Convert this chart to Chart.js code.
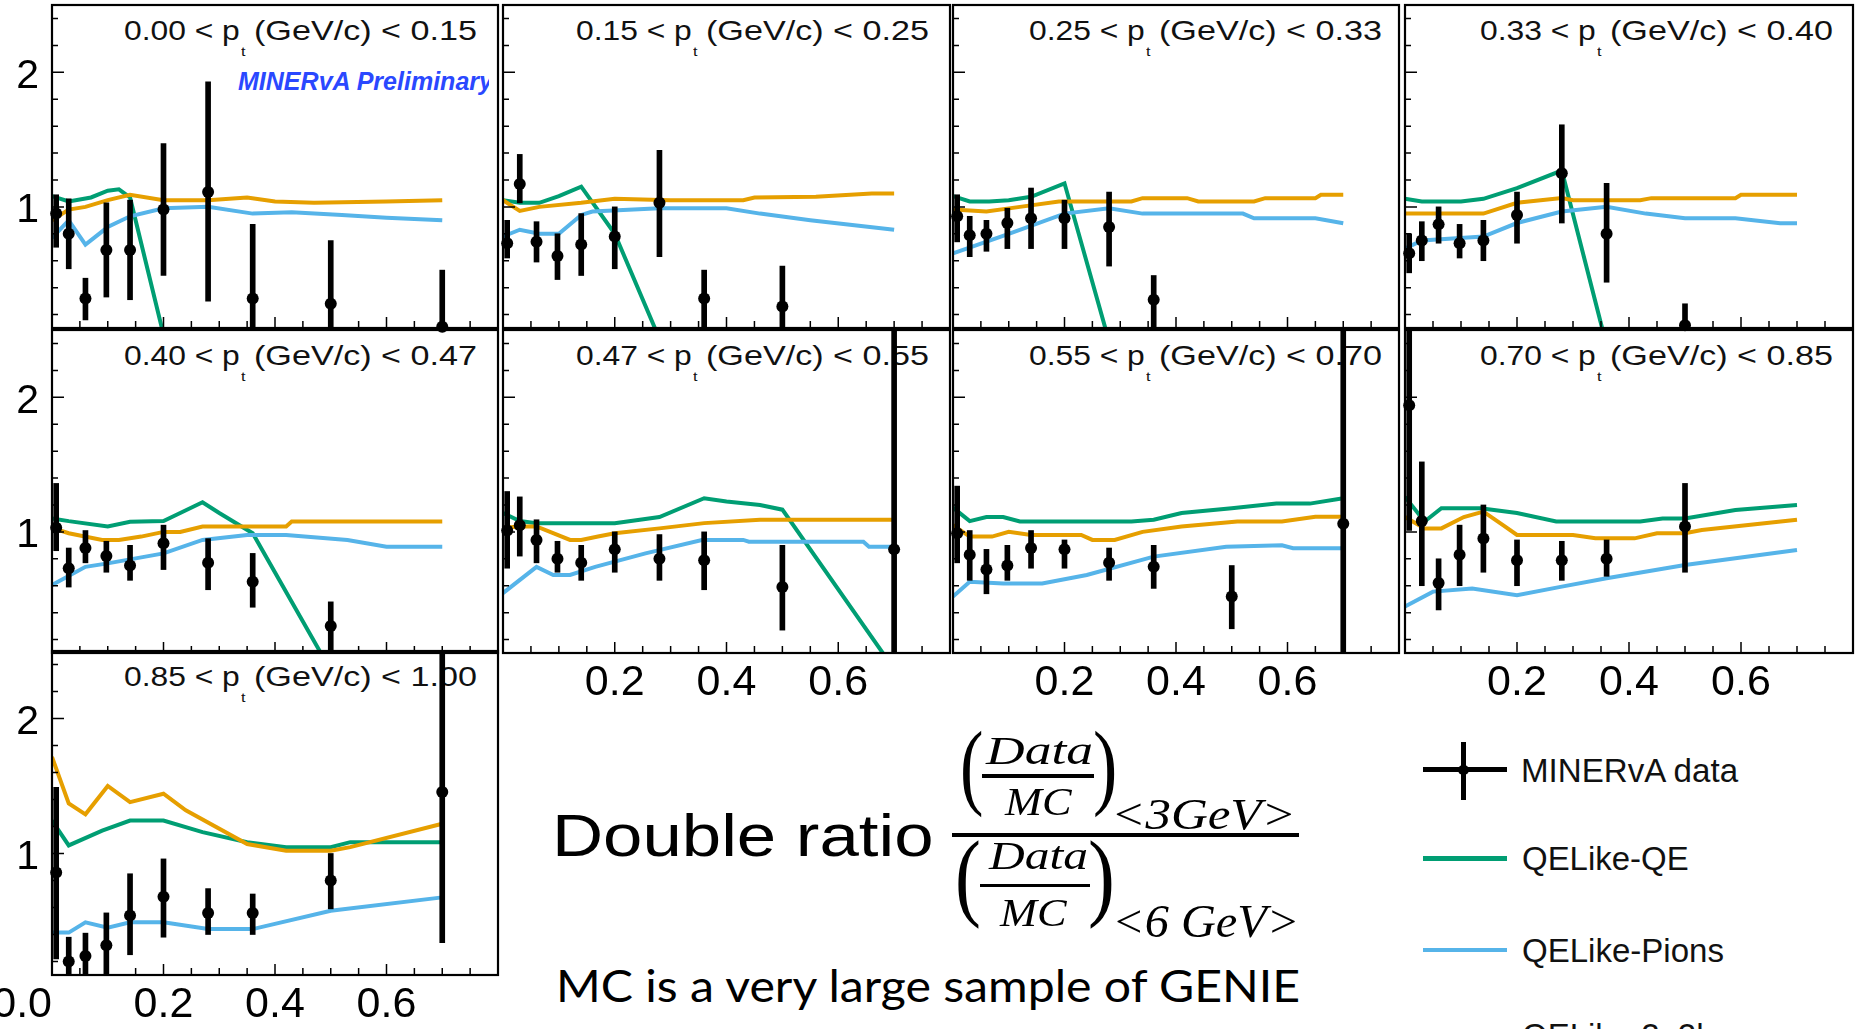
<!DOCTYPE html>
<html><head><meta charset="utf-8">
<script src="https://cdn.jsdelivr.net/npm/chart.js@4.4.1/dist/chart.umd.min.js"></script>
<style>
html,body{margin:0;padding:0;background:#fff;}
#stage{position:relative;width:1860px;height:1029px;overflow:hidden;background:#fff;}
#stage canvas{position:absolute;}
.t{position:absolute;white-space:pre;margin:0;padding:0;}
.r{position:absolute;}
</style></head><body><div id="stage"></div>
<script>
// ---------------- DATA ----------------
const xCenters = [0.0075, 0.03, 0.06, 0.0975, 0.14, 0.2, 0.28, 0.36, 0.5, 0.7];
const ptLow  = ['0.00','0.15','0.25','0.33','0.40','0.47','0.55','0.70','0.85'];
const ptHigh = ['0.15','0.25','0.33','0.40','0.47','0.55','0.70','0.85','1.00'];
const xTicksFull = [0, 0.2, 0.4, 0.6];
const xTicksInner = [0.2, 0.4, 0.6];
const yTickLabels = [1, 2];

const data0   = [0.95, 0.80, 0.32, 0.68, 0.68, 0.98, 1.11, 0.32, 0.28, 0.11];
const data0Lo = [0.70, 0.54, 0.16, 0.33, 0.31, 0.49, 0.30, -0.2, -0.2, -0.3];
const data0Hi = [1.09, 1.06, 0.47, 1.03, 1.05, 1.47, 1.93, 0.87, 0.75, 0.53];

const data1   = [0.73, 1.17, 0.74, 0.635, 0.72, 0.78, 1.03, 0.32, 0.26, null];
const data1Lo = [0.62, 1.03, 0.59, 0.46, 0.49, 0.54, 0.63, -0.2, -0.2, null];
const data1Hi = [0.90, 1.39, 0.89, 0.80, 0.95, 1.00, 1.42, 0.53, 0.56, null];

const data2   = [0.93, 0.79, 0.80, 0.88, 0.915, 0.915, 0.85, 0.31, null, null];
const data2Lo = [0.74, 0.63, 0.67, 0.69, 0.69, 0.69, 0.56, -0.2, null, null];
const data2Hi = [1.09, 0.93, 0.90, 0.99, 1.14, 1.05, 1.11, 0.49, null, null];

const data3   = [0.655, 0.75, 0.87, 0.73, 0.75, 0.94, 1.25, 0.80, 0.12, null];
const data3Lo = [0.51, 0.60, 0.73, 0.62, 0.60, 0.73, 0.88, 0.44, -0.2, null];
const data3Hi = [0.80, 0.89, 1.00, 0.87, 0.90, 1.11, 1.61, 1.175, 0.28, null];

const data4   = [1.03, 0.73, 0.88, 0.82, 0.75, 0.915, 0.77, 0.63, 0.30, null];
const data4Lo = [0.86, 0.59, 0.77, 0.70, 0.64, 0.72, 0.57, 0.44, -0.2, null];
const data4Hi = [1.36, 0.88, 1.01, 0.93, 0.90, 1.05, 0.95, 0.84, 0.48, null];

const data5   = [1.01, 1.05, 0.94, 0.80, 0.77, 0.87, 0.80, 0.79, 0.59, 0.87];
const data5Lo = [0.73, 0.82, 0.77, 0.70, 0.64, 0.70, 0.64, 0.57, 0.27, -0.5];
const data5Hi = [1.30, 1.26, 1.09, 0.93, 0.90, 1.00, 0.98, 1.00, 0.90, 3.0];

const data6   = [0.99, 0.83, 0.72, 0.75, 0.88, 0.87, 0.77, 0.74, 0.52, 1.06];
const data6Lo = [0.77, 0.64, 0.54, 0.64, 0.73, 0.73, 0.64, 0.58, 0.28, -0.5];
const data6Hi = [1.34, 1.01, 0.87, 0.90, 1.01, 0.94, 0.88, 0.90, 0.75, 3.0];

const data7   = [1.94, 1.08, 0.62, 0.83, 0.95, 0.79, 0.79, 0.80, 1.04, null];
const data7Lo = [1.01, 0.60, 0.42, 0.60, 0.70, 0.60, 0.64, 0.67, 0.70, null];
const data7Hi = [2.90, 1.52, 0.80, 1.05, 1.20, 0.94, 0.93, 0.94, 1.36, null];

const data8   = [0.86, 0.20, 0.24, 0.32, 0.54, 0.68, 0.56, 0.56, 0.80, 1.455];
const data8Lo = [0.22, -0.2, -0.2, -0.2, 0.25, 0.38, 0.40, 0.40, 0.59, 0.34];
const data8Hi = [1.49, 0.38, 0.41, 0.56, 0.85, 0.96, 0.74, 0.70, 1.00, 3.0];

// QELike-QE
const qe0 = [[0,1.08],[0.03,1.04],[0.07,1.07],[0.10,1.12],[0.12,1.13],[0.14,1.07],[0.2,0.05]];
const qe1 = [[0,1.05],[0.03,1.03],[0.065,1.03],[0.10,1.08],[0.14,1.15],[0.2,0.80],[0.28,0.02]];
const qe2 = [[0,1.08],[0.03,1.04],[0.065,1.04],[0.10,1.05],[0.14,1.075],[0.2,1.175],[0.28,0.0]];
const qe3 = [[0,1.06],[0.03,1.04],[0.1,1.04],[0.14,1.06],[0.2,1.14],[0.28,1.27],[0.36,-0.03]];
const qe4 = [[0,1.10],[0.03,1.08],[0.1,1.04],[0.14,1.075],[0.2,1.08],[0.23,1.14],[0.27,1.22],[0.30,1.14],[0.36,0.99],[0.5,-0.03]];
const qe5 = [[0,1.14],[0.03,1.08],[0.06,1.065],[0.2,1.065],[0.28,1.11],[0.36,1.25],[0.40,1.225],[0.46,1.2],[0.5,1.165],[0.7,-0.02]];
const qe6 = [[0,1.18],[0.03,1.08],[0.06,1.11],[0.09,1.11],[0.12,1.077],[0.32,1.077],[0.36,1.09],[0.41,1.14],[0.5,1.176],[0.58,1.21],[0.64,1.21],[0.7,1.25]];
const qe7 = [[0,1.26],[0.035,1.077],[0.065,1.176],[0.135,1.176],[0.2,1.14],[0.27,1.077],[0.42,1.077],[0.46,1.10],[0.5,1.10],[0.59,1.163],[0.7,1.2]];
const qe8 = [[0,1.244],[0.03,1.06],[0.09,1.17],[0.14,1.244],[0.2,1.244],[0.27,1.158],[0.35,1.084],[0.42,1.047],[0.5,1.047],[0.535,1.084],[0.7,1.084]];

// QELike-Pions
const pions0 = [[0,0.77],[0.03,0.90],[0.06,0.72],[0.10,0.85],[0.14,0.93],[0.2,0.99],[0.28,1.00],[0.36,0.95],[0.43,0.96],[0.52,0.94],[0.6,0.92],[0.7,0.90]];
const pions1 = [[0,0.78],[0.03,0.83],[0.065,0.80],[0.10,0.80],[0.14,0.94],[0.16,0.965],[0.28,0.99],[0.40,0.99],[0.46,0.95],[0.55,0.90],[0.7,0.83]];
const pions2 = [[0,0.655],[0.1,0.80],[0.2,0.95],[0.28,0.99],[0.34,0.95],[0.52,0.95],[0.54,0.915],[0.65,0.915],[0.7,0.878]];
const pions3 = [[0,0.69],[0.03,0.75],[0.14,0.78],[0.2,0.88],[0.28,0.965],[0.36,1.0],[0.43,0.95],[0.5,0.915],[0.59,0.915],[0.67,0.878],[0.7,0.878]];
const pions4 = [[0,0.605],[0.06,0.74],[0.10,0.766],[0.2,0.84],[0.27,0.94],[0.35,0.977],[0.42,0.977],[0.53,0.94],[0.6,0.89],[0.7,0.89]];
const pions5 = [[0,0.545],[0.06,0.74],[0.09,0.68],[0.12,0.68],[0.165,0.74],[0.255,0.84],[0.356,0.94],[0.43,0.94],[0.44,0.927],[0.645,0.927],[0.655,0.89],[0.7,0.89]];
const pions6 = [[0,0.52],[0.03,0.63],[0.09,0.616],[0.16,0.616],[0.24,0.68],[0.36,0.816],[0.49,0.89],[0.59,0.90],[0.61,0.878],[0.7,0.878]];
const pions7 = [[0,0.445],[0.05,0.556],[0.12,0.58],[0.2,0.53],[0.28,0.593],[0.36,0.655],[0.5,0.754],[0.7,0.866]];
const pions8 = [[0,0.414],[0.03,0.414],[0.06,0.49],[0.1,0.45],[0.14,0.49],[0.2,0.49],[0.28,0.44],[0.36,0.44],[0.5,0.576],[0.7,0.675]];

// QELike-2p2h
const mec0 = [[0,0.90],[0.03,0.98],[0.06,1.00],[0.10,1.05],[0.14,1.09],[0.20,1.05],[0.28,1.05],[0.35,1.07],[0.40,1.04],[0.47,1.03],[0.60,1.04],[0.70,1.05]];
const mec1 = [[0,1.05],[0.03,0.97],[0.065,1.0],[0.14,1.03],[0.2,1.06],[0.3,1.05],[0.43,1.05],[0.45,1.07],[0.56,1.075],[0.66,1.10],[0.7,1.10]];
const mec2 = [[0,0.98],[0.06,0.965],[0.12,1.0],[0.19,1.04],[0.32,1.04],[0.34,1.065],[0.42,1.065],[0.44,1.04],[0.54,1.04],[0.56,1.065],[0.65,1.065],[0.66,1.09],[0.7,1.09]];
const mec3 = [[0,0.95],[0.14,0.95],[0.2,1.03],[0.28,1.065],[0.30,1.05],[0.42,1.05],[0.44,1.065],[0.59,1.065],[0.6,1.09],[0.7,1.09]];
const mec4 = [[0,1.03],[0.03,0.99],[0.09,0.94],[0.12,0.94],[0.16,0.965],[0.2,1.0],[0.23,1.0],[0.27,1.04],[0.42,1.04],[0.43,1.077],[0.7,1.077]];
const mec5 = [[0,1.03],[0.03,1.04],[0.06,1.04],[0.12,0.94],[0.14,0.94],[0.17,0.965],[0.2,0.99],[0.28,1.026],[0.36,1.065],[0.46,1.09],[0.7,1.09]];
const mec6 = [[0,1.05],[0.03,0.965],[0.07,0.965],[0.1,1.0],[0.14,0.977],[0.23,0.977],[0.25,0.94],[0.29,0.94],[0.34,1.0],[0.41,1.04],[0.51,1.077],[0.59,1.077],[0.65,1.113],[0.7,1.113]];
const mec7 = [[0,1.11],[0.035,1.026],[0.065,1.026],[0.105,1.11],[0.14,1.15],[0.175,1.05],[0.2,0.977],[0.3,0.977],[0.34,0.952],[0.41,0.952],[0.45,0.99],[0.5,0.99],[0.53,1.014],[0.7,1.09]];
const mec8 = [[0,1.715],[0.03,1.37],[0.06,1.29],[0.1,1.50],[0.14,1.38],[0.2,1.443],[0.24,1.32],[0.35,1.07],[0.42,1.02],[0.5,1.02],[0.535,1.047],[0.7,1.22]];

// ---------------- LAYOUT / STYLE ----------------
const GREEN = '#009E73', BLUE = '#56B4E9', ORANGE = '#E69F00';
const SANS = '"Liberation Sans", Arial, sans-serif';
const SERIF = '"Liberation Serif", "DejaVu Serif", serif';
const colL = [52, 503, 953, 1405], colR = [498, 950, 1399, 1853];
const rowT = [5, 330, 651], rowB = [328, 653, 975];
const titleX = [125, 577, 1030, 1481];
const PL = 52, PT = 8, PR = 8, PB = 64;

const panels = [
  [data0, data0Lo, data0Hi, qe0, pions0, mec0],
  [data1, data1Lo, data1Hi, qe1, pions1, mec1],
  [data2, data2Lo, data2Hi, qe2, pions2, mec2],
  [data3, data3Lo, data3Hi, qe3, pions3, mec3],
  [data4, data4Lo, data4Hi, qe4, pions4, mec4],
  [data5, data5Lo, data5Hi, qe5, pions5, mec5],
  [data6, data6Lo, data6Hi, qe6, pions6, mec6],
  [data7, data7Lo, data7Hi, qe7, pions7, mec7],
  [data8, data8Lo, data8Hi, qe8, pions8, mec8]
];

const stage = document.getElementById('stage');
const mctx = document.createElement('canvas').getContext('2d');

function makeEl(text, font, m, parent, color) {
  const A = m.fontBoundingBoxAscent, D = m.fontBoundingBoxDescent;
  const LH = Math.ceil(A + D) + 2;
  const bt = (LH - (A + D)) / 2 + A;
  const el = document.createElement('div');
  el.className = 't';
  el.textContent = text;
  el.style.font = font;
  el.style.lineHeight = LH + 'px';
  el.style.transformOrigin = '0 0';
  el.style.color = color || '#000';
  (parent || stage).appendChild(el);
  return {el, bt};
}
function addText(text, font, x0, x1, baseY, color, sxFixed, parent) {
  mctx.font = font;
  const m = mctx.measureText(text);
  const iw = m.actualBoundingBoxLeft + m.actualBoundingBoxRight;
  const sx = (x1 != null) ? (x1 - x0) / iw : (sxFixed || 1);
  const {el, bt} = makeEl(text, font, m, parent, color);
  el.style.left = (x0 + m.actualBoundingBoxLeft * sx) + 'px';
  el.style.top = (baseY - bt) + 'px';
  el.style.transform = 'scaleX(' + sx + ')';
  return el;
}
function addBoxText(text, font, x0, y0, x1, y1, color) {
  mctx.font = font;
  const m = mctx.measureText(text);
  const iw = m.actualBoundingBoxLeft + m.actualBoundingBoxRight;
  const ih = m.actualBoundingBoxAscent + m.actualBoundingBoxDescent;
  const sx = (x1 - x0) / iw, sy = (y1 - y0) / ih;
  const {el, bt} = makeEl(text, font, m, null, color);
  el.style.left = (x0 + m.actualBoundingBoxLeft * sx) + 'px';
  el.style.top = (y0 - (bt - m.actualBoundingBoxAscent) * sy) + 'px';
  el.style.transform = 'scale(' + sx + ',' + sy + ')';
  return el;
}
function addRect(x0, y0, x1, y1, color, radius) {
  const d = document.createElement('div');
  d.className = 'r';
  Object.assign(d.style, {left: x0 + 'px', top: y0 + 'px', width: (x1 - x0) + 'px', height: (y1 - y0) + 'px', background: color || '#000'});
  if (radius) d.style.borderRadius = radius;
  stage.appendChild(d);
}

// ---------------- PANEL TITLES (under the plots) ----------------
panels.forEach((p, i) => {
  const r = Math.floor(i / 4), c = i % 4;
  const S = titleX[c], B = rowT[r] + 34.5;
  addText(ptLow[i] + ' < p', '28px ' + SANS, S, S + 114, B, '#111');
  addText('t', '13px ' + SANS, S + 116, S + 121, rowT[r] + 51, '#111');
  addText('(GeV/c) < ' + ptHigh[i], '28px ' + SANS, S + 130, S + 351, B, '#111');
});
// MINERvA Preliminary (clipped at the panel edge)
const clipBox = document.createElement('div');
Object.assign(clipBox.style, {position: 'absolute', left: '0px', top: '0px', width: '489px', height: '140px', overflow: 'hidden'});
stage.appendChild(clipBox);
addText('MINERvA Preliminary', 'italic bold 25px ' + SANS, 238, 495, 90, '#2a48ff', null, clipBox);

// ---------------- CHARTS ----------------
const framePlugin = {
  id: 'frame',
  afterDraw(chart) {
    const {ctx, chartArea: a, scales: {x, y}} = chart;
    ctx.save();
    ctx.strokeStyle = '#000';
    ctx.lineWidth = 1.5;
    ctx.beginPath();
    for (let k = 1; k < 16; k++) {
      const px = x.getPixelForValue(k * 0.05);
      const len = (k % 4 === 0) ? 11 : 7;
      ctx.moveTo(px, a.bottom); ctx.lineTo(px, a.bottom - len);
    }
    for (let k = 1; k <= 12; k++) {
      const v = k * 0.2;
      if (v >= 2.5) continue;
      const py = y.getPixelForValue(v);
      const len = (k % 5 === 0) ? 12 : 6;
      ctx.moveTo(a.left, py); ctx.lineTo(a.left + len, py);
    }
    ctx.stroke();
    ctx.lineWidth = 2.2;
    ctx.strokeRect(a.left, a.top, a.right - a.left, a.bottom - a.top);
    ctx.restore();
  }
};

function toXY(arr) { return arr.map(([x, y]) => ({x, y})); }

panels.forEach((p, i) => {
  const [val, lo, hi, qe, pi, mec] = p;
  const r = Math.floor(i / 4), c = i % 4;
  const L = colL[c], R = colR[c], T = rowT[r], B = rowB[r];
  const w = PL + (R - L) + PR, h = PT + (B - T) + PB;
  const cv = document.createElement('canvas');
  cv.width = w; cv.height = h;
  cv.style.left = (L - PL) + 'px'; cv.style.top = (T - PT) + 'px';
  cv.style.width = w + 'px'; cv.style.height = h + 'px';
  stage.appendChild(cv);

  const showY = (c === 0);
  let xTicks = null;
  if (i === 8) xTicks = xTicksFull;
  else if (r === 1 && c > 0) xTicks = xTicksInner;

  const pts = [], errs = [];
  xCenters.forEach((x, k) => {
    if (val[k] == null) return;
    pts.push({x, y: val[k]});
    errs.push({x, y: [lo[k], hi[k]]});
  });

  new Chart(cv, {
    type: 'scatter',
    data: {
      datasets: [
        {type: 'line', label: 'QELike-QE', data: toXY(qe), borderColor: GREEN, backgroundColor: GREEN, borderWidth: 4, pointRadius: 0, tension: 0, fill: false, order: 5, clip: 1},
        {type: 'line', label: 'QELike-Pions', data: toXY(pi), borderColor: BLUE, backgroundColor: BLUE, borderWidth: 4, pointRadius: 0, tension: 0, fill: false, order: 4, clip: 1},
        {type: 'line', label: 'QELike-2p2h', data: toXY(mec), borderColor: ORANGE, backgroundColor: ORANGE, borderWidth: 4, pointRadius: 0, tension: 0, fill: false, order: 3, clip: 1},
        {type: 'bar', label: 'MINERvA data error', data: errs, backgroundColor: '#000', borderWidth: 0, barThickness: 5, grouped: false, order: 2, clip: 0},
        {type: 'scatter', label: 'MINERvA data', data: pts, backgroundColor: '#000', borderColor: '#000', borderWidth: 0, pointRadius: 6, pointStyle: 'circle', order: 1, clip: 7}
      ]
    },
    options: {
      responsive: false, maintainAspectRatio: false, animation: false, devicePixelRatio: 1, events: [],
      layout: {padding: {top: PT, right: PR, left: 0, bottom: 0}},
      plugins: {legend: {display: false}, tooltip: {enabled: false}, title: {display: false}},
      scales: {
        x: {
          type: 'linear', min: 0, max: 0.8, offset: false,
          grid: {display: false, drawTicks: false}, border: {display: false},
          ticks: {display: !!xTicks, padding: 4, autoSkip: false, maxRotation: 0, minRotation: 0, color: '#000',
                  font: {family: SANS, size: 43},
                  callback: v => (Number(v) === 0 ? '0.0     ' : Number(v).toFixed(1))},
          afterBuildTicks: s => { s.ticks = (xTicks || xTicksInner).map(v => ({value: v})); },
          afterFit: s => { s.height = PB; s.paddingLeft = 0; s.paddingRight = 0; s.paddingTop = 0; s.paddingBottom = 0; }
        },
        y: {
          type: 'linear', min: 0.1, max: 2.5,
          grid: {display: false, drawTicks: false}, border: {display: false},
          ticks: {display: showY, padding: 13, labelOffset: 4, color: '#000',
                  font: {family: SANS, size: 41}, callback: v => String(v)},
          afterBuildTicks: s => { s.ticks = yTickLabels.map(v => ({value: v})); },
          afterFit: s => { s.width = PL; s.paddingLeft = 0; s.paddingRight = 0; s.paddingTop = 0; s.paddingBottom = 0; }
        }
      }
    },
    plugins: [framePlugin]
  });
});

// ---------------- FORMULA TEXT ----------------
addText('Double ratio', '60px ' + SANS, 557, 931, 856);
addRect(952, 833, 1299, 837);
addBoxText('(', '100px ' + SERIF, 963, 731, 982, 818);
addBoxText(')', '100px ' + SERIF, 1095, 731, 1114, 818);
addBoxText('Data', 'italic 36px ' + SERIF, 985, 737, 1092, 764);
addRect(982, 774, 1094, 777.5);
addBoxText('MC', 'italic 36px ' + SERIF, 1004, 788, 1073, 815);
addBoxText('<3GeV>', 'italic 32px ' + SERIF, 1116, 800, 1292, 829);
addBoxText('(', '100px ' + SERIF, 958, 840, 979, 929);
addBoxText(')', '100px ' + SERIF, 1090, 840, 1111, 929);
addBoxText('Data', 'italic 36px ' + SERIF, 988, 843, 1087, 869);
addRect(980, 883.5, 1090, 887);
addBoxText('MC', 'italic 36px ' + SERIF, 999, 899, 1068, 926);
addBoxText('<6 GeV>', 'italic 32px ' + SERIF, 1117, 906, 1296, 937);
addText('MC is a very large sample of GENIE', '45px Lato, "Open Sans", sans-serif', 560, 1301, 1002);

// ---------------- LEGEND ----------------
addRect(1423, 767, 1507, 771.5);
addRect(1461, 742, 1465.5, 800);
addRect(1458, 764.5, 1468.5, 775, '#000', '50%');
addRect(1423, 856, 1507, 860.5, GREEN);
addRect(1423, 947.5, 1507, 952, BLUE);
addRect(1423, 1034, 1507, 1038.5, ORANGE);
addText('MINERvA data', '34px ' + SANS, 1523, 1740, 781.5, '#111');
addText('QELike-QE', '34px ' + SANS, 1523, 1688, 870, '#111');
addText('QELike-Pions', '34px ' + SANS, 1523, 1723, 962, '#111');
addText('QELike-2p2h', '34px ' + SANS, 1523, null, 1047, '#111', 0.97);
</script></body></html>
